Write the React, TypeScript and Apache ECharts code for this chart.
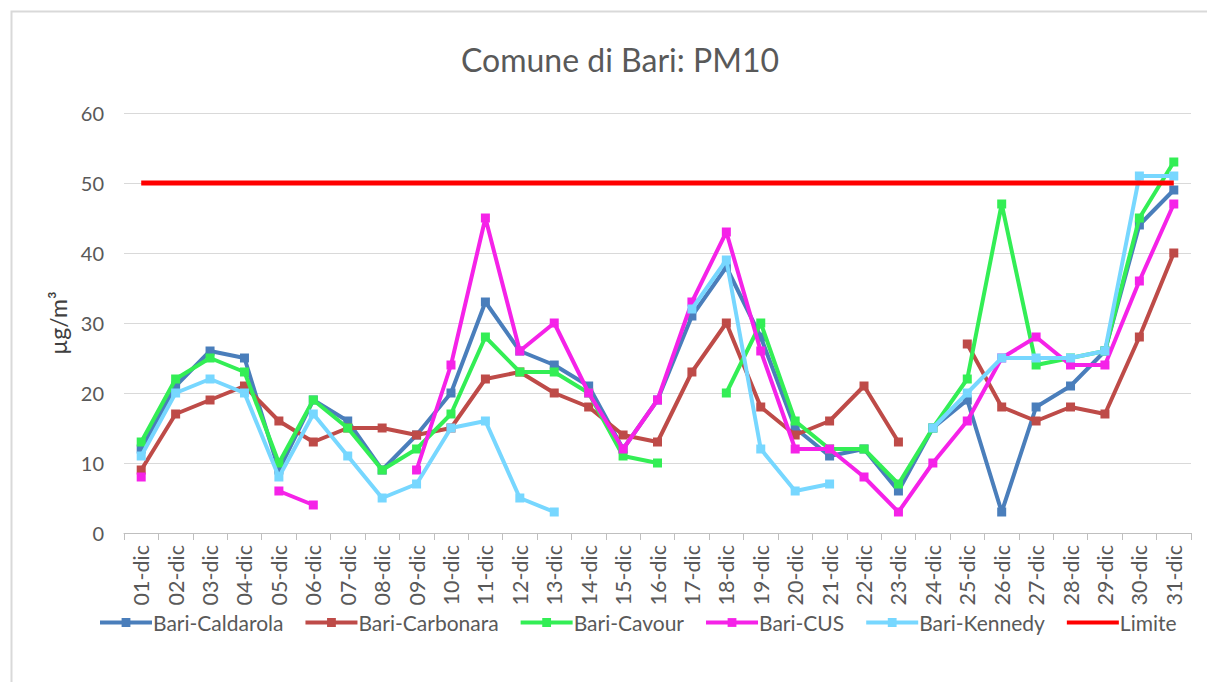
import React, { useEffect, useRef } from "react";
import * as echarts from "echarts";

const days = [
  "01-dic","02-dic","03-dic","04-dic","05-dic","06-dic","07-dic","08-dic","09-dic","10-dic",
  "11-dic","12-dic","13-dic","14-dic","15-dic","16-dic","17-dic","18-dic","19-dic","20-dic",
  "21-dic","22-dic","23-dic","24-dic","25-dic","26-dic","27-dic","28-dic","29-dic","30-dic","31-dic",
];

const caldarola = [12,21,26,25,9,19,16,9,14,20,33,26,24,21,12,19,31,38,28,15,11,12,6,15,19,3,18,21,26,44,49];
const carbonara = [9,17,19,21,16,13,15,15,14,15,22,23,20,18,14,13,23,30,18,14,16,21,13,null,27,18,16,18,17,28,40];
const cavour = [13,22,25,23,10,19,15,9,12,17,28,23,23,20,11,10,null,20,30,16,12,12,7,15,22,47,24,25,26,45,53];
const cus = [8,null,null,null,6,4,null,null,9,24,45,26,30,20,12,19,33,43,26,12,12,8,3,10,16,25,28,24,24,36,47];
const kennedy = [11,20,22,20,8,17,11,5,7,15,16,5,3,null,null,null,32,39,12,6,7,null,null,15,20,25,25,25,26,51,51];
const limite = days.map(() => 50);

const seriesNames = ["Bari-Caldarola","Bari-Carbonara","Bari-Cavour","Bari-CUS","Bari-Kennedy","Limite"];
const seriesColors = ["#4A7EBB","#BE4B48","#33EE55","#F522E8","#77D7FF","#FF0000"];
const seriesData = [caldarola, carbonara, cavour, cus, kennedy, limite];

const FONT = "Lato, 'Open Sans', sans-serif";

export default function App() {
  const ref = useRef<HTMLDivElement>(null);
  useEffect(() => {
    document.body.style.margin = "0";
    const chart = echarts.init(ref.current!, null, { renderer: "svg" });
    chart.setOption({
      animation: false,
      backgroundColor: "#ffffff",
      title: {
        text: "Comune di Bari: PM10",
        left: 456,
        top: 38,
        textStyle: { fontFamily: FONT, fontSize: 32, fontWeight: "normal", color: "#595959" },
      },
      graphic: [
        {
          type: "rect",
          shape: { x: 11.5, y: 11.5, width: 1220, height: 700 },
          style: { fill: "none", stroke: "#D9D9D9", lineWidth: 2 },
          silent: true,
        },
      ],
      legend: {
        bottom: 44,
        left: 93,
        itemWidth: 52,
        itemHeight: 11,
        itemGap: 20,
        data: seriesNames.map((n) =>
          n === "Limite" ? { name: n, itemStyle: { opacity: 0 } } : { name: n }
        ),
        lineStyle: { width: 4 },
        textStyle: { fontFamily: FONT, fontSize: 21, color: "#595959", padding: [0, 0, 0, -4] },
      },
      grid: { left: 124, right: 16, top: 113, bottom: 149, containLabel: false },
      xAxis: {
        type: "category",
        data: days,
        boundaryGap: true,
        axisLine: { lineStyle: { color: "#BFBFBF", width: 1 } },
        axisTick: { show: true, length: 7, lineStyle: { color: "#BFBFBF" } },
        axisLabel: {
          rotate: 90,
          interval: 0,
          margin: 12,
          fontFamily: FONT,
          fontSize: 21.5,
          color: "#595959",
        },
      },
      yAxis: {
        type: "value",
        min: 0,
        max: 60,
        interval: 10,
        name: "µg/m³",
        nameLocation: "middle",
        nameRotate: 90,
        nameGap: 54,
        nameTextStyle: { fontFamily: FONT, fontSize: 23, color: "#404040", fontWeight: "normal" },
        axisLine: { show: false },
        axisTick: { show: false },
        axisLabel: { fontFamily: FONT, fontSize: 20, color: "#595959", margin: 20 },
        splitLine: { lineStyle: { color: "#D9D9D9", width: 1 } },
      },
      series: seriesNames.map((name, i) => ({
        name,
        type: "line",
        data: seriesData[i],
        connectNulls: false,
        symbol: name === "Limite" ? "none" : "rect",
        symbolSize: 9,
        color: seriesColors[i],
        lineStyle: { width: name === "Limite" ? 5 : 4, color: seriesColors[i] },
        itemStyle: { color: seriesColors[i] },
        z: 2 + i,
      })),
    });
    return () => chart.dispose();
  }, []);
  return <div ref={ref} style={{ width: 1207, height: 682 }} />;
}
